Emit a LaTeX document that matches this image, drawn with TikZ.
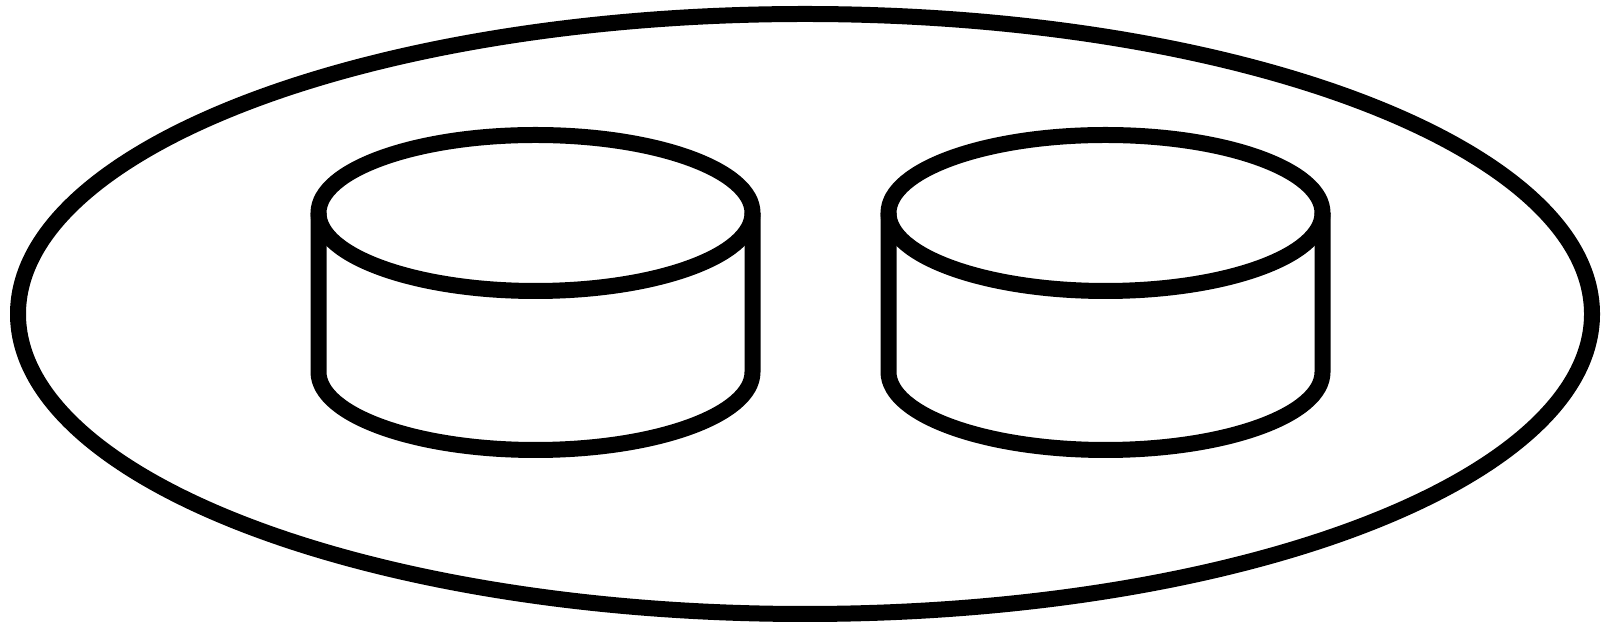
\documentclass[tikz,border=0pt]{standalone}
\usepackage{tikz}

\begin{document}
\begin{tikzpicture}[x=0.02cm,y=0.02cm,line width=0.32cm]
			\newcommand{\DrawDrum}[1]{
				\draw (#1,411) ellipse (217 and 78);
				\draw (#1-217,411) -- (#1-217,252) arc (180:360:217 and 78) -- (#1+217,411);
			}
			\useasboundingbox (0,0) rectangle (1601,624);

			\draw (805,310) ellipse (787 and 300);

			\DrawDrum{535.5}
			\DrawDrum{1105.5}
		\end{tikzpicture}
\end{document}
